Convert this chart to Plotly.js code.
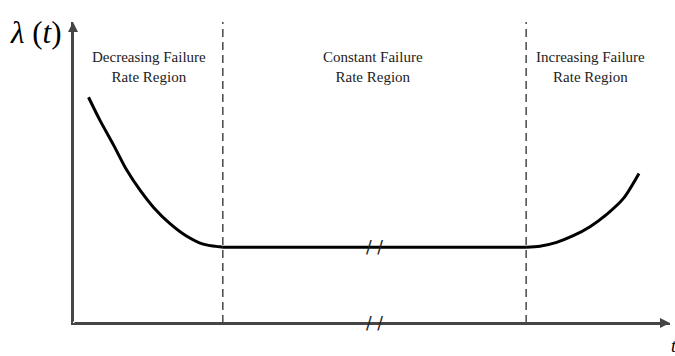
<!DOCTYPE html>
<html>
<head>
<meta charset="utf-8">
<script src="https://cdn.plot.ly/plotly-3.0.1.min.js"></script>
<style>
  html, body { margin: 0; padding: 0; background: #fff; }
  #chart { width: 675px; height: 356px; }
</style>
</head>
<body>
<div id="chart"></div>
<script>
// bathtub curve, values (arbitrary units)
const earlyT = [0.26, 0.45, 0.68, 0.90, 1.12, 1.35, 1.62, 1.90, 2.18, 2.46, 2.51];
const earlyRate = [7.50, 6.74, 5.91, 5.08, 4.42, 3.84, 3.31, 2.89, 2.62, 2.53, 2.52];

const usefulT = [2.51, 7.59];
const usefulRate = [2.52, 2.52];

const wearT = [7.59, 7.82, 8.10, 8.38, 8.66, 8.94, 9.22, 9.48];
const wearRate = [2.52, 2.55, 2.68, 2.90, 3.20, 3.61, 4.14, 4.97];

const boundaries = [2.51, 7.59];
const regionLabels = [
  "Decreasing Failure<br>Rate Region",
  "Constant Failure<br>Rate Region",
  "Increasing Failure<br>Rate Region",
];
const regionCenters = [1.27, 5.03, 8.66];
const labelLevel = 8.49;

const T_MAX = 10;
const RATE_MAX = 10;

const SERIF = "Liberation Serif, Times New Roman, serif";
const AXIS_COLOR = "#454545";

const traces = [
  { x: earlyT, y: earlyRate, shape: "spline" },
  { x: usefulT, y: usefulRate, shape: "linear" },
  { x: wearT, y: wearRate, shape: "spline" },
].map((d) => ({
  x: d.x,
  y: d.y,
  type: "scatter",
  mode: "lines",
  line: { color: "#000", width: 3, shape: d.shape, smoothing: 0.8 },
  cliponaxis: false,
  hoverinfo: "skip",
}));

const shapes = boundaries.map((b) => ({
  type: "line",
  xref: "x",
  yref: "y",
  x0: b,
  x1: b,
  y0: 0,
  y1: RATE_MAX,
  line: { color: "#1a1a1a", width: 1.2, dash: "8px,5px" },
}));

const annotations = [];

// axis arrows
annotations.push({
  x: T_MAX, y: 0, ax: 0, ay: 0, axref: "x", ayref: "y",
  xref: "x", yref: "y", text: "", showarrow: true,
  arrowhead: 2, arrowsize: 1, arrowwidth: 2, arrowcolor: AXIS_COLOR,
  standoff: 0, startstandoff: 0,
});
annotations.push({
  x: 0, y: RATE_MAX, ax: 0, ay: 0, axref: "x", ayref: "y",
  xref: "x", yref: "y", text: "", showarrow: true,
  arrowhead: 2, arrowsize: 1, arrowwidth: 2, arrowcolor: AXIS_COLOR,
  standoff: 0, startstandoff: 0,
});

// axis labels
annotations.push({
  x: 0, y: RATE_MAX, xref: "x", yref: "y",
  xanchor: "right", yanchor: "middle", xshift: -10, yshift: -10,
  text: "<i>λ</i> (<i>t</i>)", showarrow: false,
  font: { family: SERIF, size: 31, color: "#000" },
});
annotations.push({
  x: T_MAX, y: 0, xref: "x", yref: "y",
  xanchor: "left", yanchor: "middle", xshift: -1, yshift: -23,
  text: "<i>t</i>", showarrow: false,
  font: { family: SERIF, size: 18, color: "#000" },
});

// region labels
regionLabels.forEach((txt, i) => {
  annotations.push({
    x: regionCenters[i], y: labelLevel, xref: "x", yref: "y",
    text: txt, showarrow: false, align: "center",
    font: { family: SERIF, size: 15, color: "#222" },
  });
});

// axis break marks at the middle of the constant region
const breakT = (boundaries[0] + boundaries[1]) / 2;
[usefulRate[0], 0].forEach((lvl) => {
  annotations.push({
    x: breakT, y: lvl, xref: "x", yref: "y",
    text: "/ /", showarrow: false,
    font: { family: "DejaVu Sans", size: 17, color: "#222" },
  });
});

const hidden = {
  visible: true, showgrid: false, zeroline: false,
  showticklabels: false, ticks: "", fixedrange: true,
};

const layout = {
  width: 675,
  height: 356,
  margin: { l: 73, r: 5, t: 22, b: 33 },
  paper_bgcolor: "#fff",
  plot_bgcolor: "#fff",
  showlegend: false,
  xaxis: {
    ...hidden, range: [0, T_MAX],
    showline: true, linecolor: AXIS_COLOR, linewidth: 2,
  },
  yaxis: {
    ...hidden, range: [0, RATE_MAX],
    showline: true, linecolor: AXIS_COLOR, linewidth: 2,
  },
  shapes,
  annotations,
};

Plotly.newPlot("chart", traces, layout, { staticPlot: true, displayModeBar: false });
</script>
</body>
</html>
